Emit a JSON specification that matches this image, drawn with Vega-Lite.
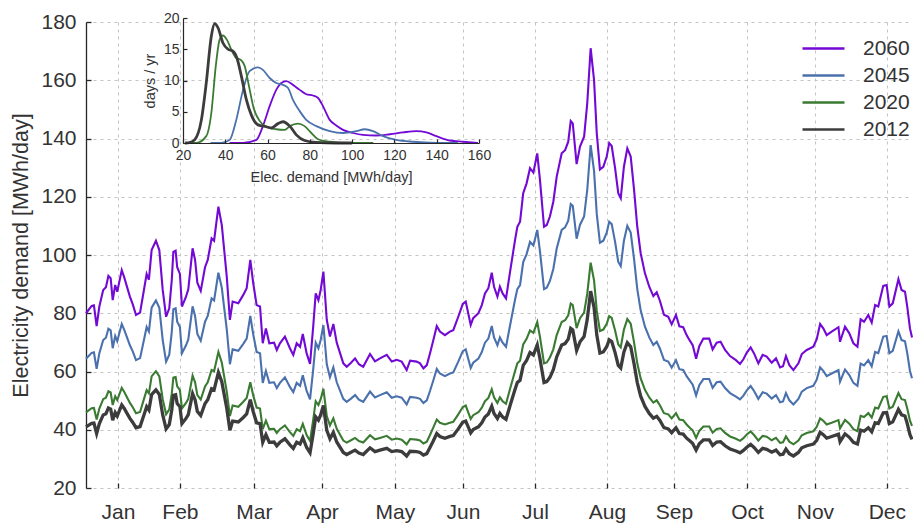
{
"$schema": "https://vega.github.io/schema/vega-lite/v6.json",
"width": 826, "height": 466,
"autosize": {"type": "none"},
"padding": {"left": 86, "top": 22, "right": 1, "bottom": 36},
"background": "white",
"config": {"view": {"stroke": null}, "font": "Liberation Sans", "axis": {"labelColor": "#333333", "titleColor": "#333333", "titleFontWeight": "normal", "labelFlush": false, "labelOverlap": false, "labelBound": false}},
"datasets": {
"main": [
{"d":0,"2060":80,"2045":64.4,"2020":46.0,"2012":41.0},
{"d":2.5,"2060":82.5,"2045":66.4,"2020":47.4,"2012":42.2},
{"d":3.5,"2060":82.7,"2045":66.6,"2020":47.5,"2012":42.3},
{"d":4.7,"2060":75.6,"2045":60.9,"2020":43.5,"2012":38.7},
{"d":5.9,"2060":82.3,"2045":66.3,"2020":47.3,"2012":42.1},
{"d":7.6,"2060":88,"2045":70.8,"2020":50.5,"2012":45.1},
{"d":8.8,"2060":88.9,"2045":71.6,"2020":51.0,"2012":45.5},
{"d":9.9,"2060":92.8,"2045":74.7,"2020":53.2,"2012":47.5},
{"d":10.9,"2060":92,"2045":74.1,"2020":52.8,"2012":47.1},
{"d":11.8,"2060":84.5,"2045":68.0,"2020":48.5,"2012":43.3},
{"d":12.9,"2060":89.7,"2045":72.2,"2020":51.5,"2012":45.9},
{"d":13.8,"2060":87.4,"2045":70.4,"2020":50.2,"2012":44.7},
{"d":15.8,"2060":94.8,"2045":76.3,"2020":54.4,"2012":48.5},
{"d":16.9,"2060":92.3,"2045":74.3,"2020":53.0,"2012":47.3},
{"d":18.0,"2060":89.4,"2045":72.0,"2020":51.3,"2012":45.8},
{"d":19.4,"2060":85.7,"2045":69.0,"2020":49.2,"2012":43.9},
{"d":20.6,"2060":83.2,"2045":67.0,"2020":47.8,"2012":42.6},
{"d":22.1,"2060":79.4,"2045":63.9,"2020":45.7,"2012":40.7},
{"d":23.9,"2060":80.2,"2045":64.6,"2020":46.1,"2012":41.1},
{"d":25.6,"2060":88,"2045":70.8,"2020":50.5,"2012":45.1},
{"d":26.8,"2060":93.5,"2045":75.3,"2020":53.6,"2012":47.9},
{"d":27.8,"2060":91.5,"2045":73.7,"2020":52.5,"2012":46.8},
{"d":29.0,"2060":101.7,"2045":81.9,"2020":58.3,"2012":52.1},
{"d":30.9,"2060":104.9,"2045":84.4,"2020":60.1,"2012":53.7},
{"d":32.4,"2060":101.7,"2045":81.9,"2020":58.3,"2012":52.1},
{"d":33.9,"2060":88,"2045":70.8,"2020":50.5,"2012":45.1},
{"d":35.4,"2060":78.8,"2045":63.4,"2020":45.3,"2012":40.3},
{"d":36.8,"2060":81.7,"2045":65.8,"2020":47.0,"2012":41.8},
{"d":37.9,"2060":91.4,"2045":73.6,"2020":52.4,"2012":46.8},
{"d":38.6,"2060":101.1,"2045":81.4,"2020":57.9,"2012":51.8},
{"d":39.6,"2060":101.5,"2045":81.7,"2020":58.1,"2012":52.0},
{"d":40.3,"2060":95.8,"2045":77.1,"2020":54.9,"2012":49.0},
{"d":41.5,"2060":93.5,"2045":75.3,"2020":53.6,"2012":47.9},
{"d":42.4,"2060":82.3,"2045":66.3,"2020":47.3,"2012":42.1},
{"d":44.2,"2060":85.7,"2045":69.0,"2020":49.2,"2012":43.9},
{"d":45.2,"2060":88.2,"2045":71.0,"2020":50.6,"2012":45.2},
{"d":47.1,"2060":102.3,"2045":82.4,"2020":58.6,"2012":52.4},
{"d":48.2,"2060":98.3,"2045":79.1,"2020":56.3,"2012":50.3},
{"d":49.2,"2060":90.5,"2045":72.9,"2020":51.9,"2012":46.3},
{"d":50.7,"2060":87.7,"2045":70.6,"2020":50.4,"2012":44.9},
{"d":52.6,"2060":95.8,"2045":77.1,"2020":54.9,"2012":49.0},
{"d":53.8,"2060":98.3,"2045":79.1,"2020":56.3,"2012":50.3},
{"d":55.5,"2060":105.7,"2045":85.1,"2020":60.5,"2012":54.1},
{"d":56.6,"2060":104.9,"2045":84.4,"2020":60.1,"2012":53.7},
{"d":58.5,"2060":116.6,"2045":93.9,"2020":66.7,"2012":59.7},
{"d":60.0,"2060":110.3,"2045":88.8,"2020":63.1,"2012":56.5},
{"d":62.2,"2060":92.6,"2045":74.5,"2020":53.1,"2012":47.4},
{"d":63.6,"2060":77.7,"2045":62.5,"2020":44.7,"2012":39.8},
{"d":64.8,"2060":84,"2045":67.6,"2020":48.3,"2012":43.0},
{"d":67.3,"2060":83.4,"2045":67.1,"2020":47.9,"2012":42.7},
{"d":69.5,"2060":86.3,"2045":69.5,"2020":49.6,"2012":44.2},
{"d":71.0,"2060":88.6,"2045":71.3,"2020":50.9,"2012":45.4},
{"d":72.6,"2060":98.3,"2045":79.1,"2020":56.3,"2012":50.3},
{"d":73.9,"2060":90.3,"2045":72.7,"2020":51.8,"2012":46.2},
{"d":75.4,"2060":82.8,"2045":66.7,"2020":47.6,"2012":42.4},
{"d":76.9,"2060":82.3,"2045":66.3,"2020":47.3,"2012":42.1},
{"d":78.1,"2060":69.7,"2045":56.1,"2020":40.2,"2012":35.7},
{"d":79.5,"2060":74.8,"2045":60.2,"2020":43.1,"2012":38.3},
{"d":81.0,"2060":69.7,"2045":56.1,"2020":40.2,"2012":35.7},
{"d":83.1,"2060":69.9,"2045":56.3,"2020":40.3,"2012":35.8},
{"d":84.3,"2060":67.4,"2045":54.3,"2020":38.9,"2012":34.5},
{"d":85.7,"2060":69.7,"2045":56.1,"2020":40.2,"2012":35.7},
{"d":87.9,"2060":72,"2045":58.0,"2020":41.5,"2012":36.9},
{"d":90.1,"2060":68,"2045":54.7,"2020":39.2,"2012":34.8},
{"d":91.6,"2060":65.7,"2045":52.9,"2020":37.9,"2012":33.6},
{"d":93.1,"2060":69.7,"2045":56.1,"2020":40.2,"2012":35.7},
{"d":94.6,"2060":68.5,"2045":55.1,"2020":39.5,"2012":35.1},
{"d":95.8,"2060":72.9,"2045":58.7,"2020":42.0,"2012":37.3},
{"d":97.5,"2060":66.2,"2045":53.3,"2020":38.2,"2012":33.9},
{"d":99.0,"2060":62.6,"2045":50.4,"2020":36.2,"2012":32.1},
{"d":100.4,"2060":75.4,"2045":60.7,"2020":43.4,"2012":38.6},
{"d":101.5,"2060":86.8,"2045":69.9,"2020":49.8,"2012":44.4},
{"d":102.7,"2060":84.5,"2045":68.0,"2020":48.5,"2012":43.3},
{"d":103.7,"2060":88,"2045":70.8,"2020":50.5,"2012":45.1},
{"d":104.9,"2060":94.3,"2045":75.9,"2020":54.1,"2012":48.3},
{"d":106.4,"2060":77.7,"2045":62.5,"2020":44.7,"2012":39.8},
{"d":107.8,"2060":72,"2045":58.0,"2020":41.5,"2012":36.9},
{"d":109.3,"2060":76.3,"2045":61.4,"2020":43.9,"2012":39.1},
{"d":110.8,"2060":69.9,"2045":56.3,"2020":40.3,"2012":35.8},
{"d":113.7,"2060":62.8,"2045":50.6,"2020":36.3,"2012":32.2},
{"d":115.2,"2060":61.6,"2045":49.6,"2020":35.6,"2012":31.5},
{"d":117.1,"2060":63,"2045":50.7,"2020":36.4,"2012":32.3},
{"d":118.9,"2060":64.5,"2045":51.9,"2020":37.2,"2012":33.0},
{"d":120.6,"2060":62.5,"2045":50.3,"2020":36.1,"2012":32.0},
{"d":122.5,"2060":61.6,"2045":49.6,"2020":35.6,"2012":31.5},
{"d":125.5,"2060":66,"2045":53.1,"2020":38.1,"2012":33.8},
{"d":127.7,"2060":63.5,"2045":51.1,"2020":36.7,"2012":32.5},
{"d":129.9,"2060":64.5,"2045":51.9,"2020":37.2,"2012":33.0},
{"d":132.9,"2060":65.7,"2045":52.9,"2020":37.9,"2012":33.6},
{"d":135.1,"2060":63.4,"2045":51.0,"2020":36.6,"2012":32.5},
{"d":137.3,"2060":64,"2045":51.5,"2020":37.0,"2012":32.8},
{"d":139.5,"2060":63.4,"2045":51.0,"2020":36.6,"2012":32.5},
{"d":141.7,"2060":60.5,"2045":48.7,"2020":35.0,"2012":31.0},
{"d":143.2,"2060":63.7,"2045":51.3,"2020":36.8,"2012":32.6},
{"d":146.1,"2060":63.4,"2045":51.0,"2020":36.6,"2012":32.5},
{"d":147.6,"2060":62.8,"2045":50.6,"2020":36.3,"2012":32.2},
{"d":149.1,"2060":61.1,"2045":49.2,"2020":35.3,"2012":31.3},
{"d":150.6,"2060":62.2,"2045":50.1,"2020":35.9,"2012":31.8},
{"d":152.0,"2060":66.2,"2045":53.3,"2020":38.2,"2012":33.9},
{"d":153.5,"2060":70.8,"2045":57.0,"2020":40.8,"2012":36.2},
{"d":155.0,"2060":75.6,"2045":60.9,"2020":43.5,"2012":38.7},
{"d":156.4,"2060":73.7,"2045":59.3,"2020":42.4,"2012":37.7},
{"d":158.6,"2060":72.5,"2045":58.4,"2020":41.8,"2012":37.1},
{"d":160.8,"2060":73.7,"2045":59.3,"2020":42.4,"2012":37.7},
{"d":162.3,"2060":74.2,"2045":59.7,"2020":42.7,"2012":38.0},
{"d":164.5,"2060":78.8,"2045":63.4,"2020":45.3,"2012":40.3},
{"d":166.5,"2060":83.2,"2045":67.0,"2020":47.8,"2012":42.6},
{"d":167.8,"2060":84,"2045":67.6,"2020":48.3,"2012":43.0},
{"d":168.9,"2060":80,"2045":64.4,"2020":46.0,"2012":41.0},
{"d":170.0,"2060":76,"2045":61.2,"2020":43.7,"2012":38.9},
{"d":171.1,"2060":78.3,"2045":63.0,"2020":45.0,"2012":40.1},
{"d":173.4,"2060":80,"2045":64.4,"2020":46.0,"2012":41.0},
{"d":174.9,"2060":82.8,"2045":66.7,"2020":47.6,"2012":42.4},
{"d":176.3,"2060":86.8,"2045":69.9,"2020":49.8,"2012":44.4},
{"d":177.8,"2060":88.6,"2045":71.3,"2020":50.9,"2012":45.4},
{"d":179.3,"2060":93.9,"2045":75.6,"2020":53.9,"2012":48.1},
{"d":180.3,"2060":89.1,"2045":71.7,"2020":51.1,"2012":45.6},
{"d":181.8,"2060":85.7,"2045":69.0,"2020":49.2,"2012":43.9},
{"d":182.9,"2060":89.1,"2045":71.7,"2020":51.1,"2012":45.6},
{"d":184.1,"2060":86.8,"2045":69.9,"2020":49.8,"2012":44.4},
{"d":185.6,"2060":85.1,"2045":68.5,"2020":48.9,"2012":43.6},
{"d":187.4,"2060":94.3,"2045":75.9,"2020":54.1,"2012":48.3},
{"d":189.6,"2060":105.2,"2045":84.7,"2020":60.2,"2012":53.9},
{"d":190.6,"2060":109.7,"2045":88.3,"2020":62.8,"2012":56.2},
{"d":191.8,"2060":111.4,"2045":89.7,"2020":63.7,"2012":57.0},
{"d":193.2,"2060":121.2,"2045":97.6,"2020":69.3,"2012":62.1},
{"d":194.7,"2060":124.6,"2045":100.3,"2020":71.2,"2012":63.8},
{"d":196.2,"2060":129.8,"2045":104.5,"2020":74.1,"2012":66.5},
{"d":197.7,"2060":128.3,"2045":103.3,"2020":73.3,"2012":65.7},
{"d":199.4,"2060":134.9,"2045":108.6,"2020":77.0,"2012":69.1},
{"d":200.6,"2060":125.8,"2045":101.3,"2020":71.9,"2012":64.4},
{"d":202.4,"2060":109.7,"2045":88.3,"2020":62.8,"2012":56.2},
{"d":203.6,"2060":110.3,"2045":88.8,"2020":63.1,"2012":56.5},
{"d":205.0,"2060":113.2,"2045":91.1,"2020":64.8,"2012":58.0},
{"d":206.5,"2060":118.3,"2045":95.2,"2020":67.6,"2012":60.6},
{"d":208.0,"2060":126.9,"2045":102.2,"2020":72.5,"2012":65.0},
{"d":210.2,"2060":134.9,"2045":108.6,"2020":77.0,"2012":69.1},
{"d":211.7,"2060":136,"2045":109.5,"2020":77.6,"2012":69.6},
{"d":213.1,"2060":138.9,"2045":111.8,"2020":79.3,"2012":71.1},
{"d":214.2,"2060":146,"2045":117.5,"2020":83.3,"2012":74.8},
{"d":215.1,"2060":145.2,"2045":116.9,"2020":82.8,"2012":74.3},
{"d":216.8,"2060":131.2,"2045":105.6,"2020":74.9,"2012":67.2},
{"d":218.3,"2060":137.2,"2045":110.4,"2020":78.3,"2012":70.2},
{"d":220.1,"2060":140.6,"2045":113.2,"2020":80.2,"2012":72.0},
{"d":221.5,"2060":152.1,"2045":122.4,"2020":86.7,"2012":77.9},
{"d":223.0,"2060":171,"2045":137.7,"2020":97.4,"2012":87.6},
{"d":224.5,"2060":160.1,"2045":128.9,"2020":91.3,"2012":82.0},
{"d":225.7,"2060":141.8,"2045":114.1,"2020":80.9,"2012":72.6},
{"d":227.1,"2060":129.4,"2045":104.2,"2020":73.9,"2012":66.3},
{"d":228.6,"2060":130.3,"2045":104.9,"2020":74.4,"2012":66.7},
{"d":230.1,"2060":133.8,"2045":107.7,"2020":76.4,"2012":68.5},
{"d":231.2,"2060":138.4,"2045":111.4,"2020":79.0,"2012":70.9},
{"d":232.3,"2060":137.4,"2045":110.6,"2020":78.4,"2012":70.3},
{"d":233.8,"2060":129.8,"2045":104.5,"2020":74.1,"2012":66.5},
{"d":235.2,"2060":121.2,"2045":97.6,"2020":69.3,"2012":62.1},
{"d":236.3,"2060":119.5,"2045":96.2,"2020":68.3,"2012":61.2},
{"d":237.7,"2060":130.3,"2045":104.9,"2020":74.4,"2012":66.7},
{"d":239.2,"2060":136.6,"2045":110.0,"2020":78.0,"2012":69.9},
{"d":240.7,"2060":133.8,"2045":107.7,"2020":76.4,"2012":68.5},
{"d":242.2,"2060":122.3,"2045":98.5,"2020":69.9,"2012":62.6},
{"d":243.6,"2060":109.7,"2045":88.3,"2020":62.8,"2012":56.2},
{"d":245.1,"2060":100.6,"2045":81.0,"2020":57.6,"2012":51.5},
{"d":247.0,"2060":93.7,"2045":75.4,"2020":53.7,"2012":48.0},
{"d":248.9,"2060":89.1,"2045":71.7,"2020":51.1,"2012":45.6},
{"d":250.7,"2060":85.9,"2045":69.1,"2020":49.3,"2012":44.0},
{"d":252.2,"2060":87.2,"2045":70.2,"2020":50.1,"2012":44.6},
{"d":253.6,"2060":84.3,"2045":67.9,"2020":48.4,"2012":43.2},
{"d":255.4,"2060":79.5,"2045":64.0,"2020":45.7,"2012":40.7},
{"d":257.3,"2060":78.8,"2045":63.4,"2020":45.3,"2012":40.3},
{"d":258.8,"2060":76.2,"2045":61.3,"2020":43.9,"2012":39.0},
{"d":260.7,"2060":79.4,"2045":63.9,"2020":45.7,"2012":40.7},
{"d":262.2,"2060":75.5,"2045":60.8,"2020":43.5,"2012":38.7},
{"d":263.9,"2060":75.2,"2045":60.5,"2020":43.3,"2012":38.5},
{"d":265.4,"2060":72.5,"2045":58.4,"2020":41.8,"2012":37.1},
{"d":266.9,"2060":70.5,"2045":56.8,"2020":40.6,"2012":36.1},
{"d":268.1,"2060":69,"2045":55.5,"2020":39.8,"2012":35.3},
{"d":269.6,"2060":64.4,"2045":51.8,"2020":37.2,"2012":33.0},
{"d":271.0,"2060":68.7,"2045":55.3,"2020":39.6,"2012":35.2},
{"d":272.8,"2060":71.3,"2045":57.4,"2020":41.1,"2012":36.5},
{"d":275.4,"2060":71.3,"2045":57.4,"2020":41.1,"2012":36.5},
{"d":276.9,"2060":67.6,"2045":54.4,"2020":39.0,"2012":34.6},
{"d":278.7,"2060":69.9,"2045":56.3,"2020":40.3,"2012":35.8},
{"d":280.4,"2060":70.2,"2045":56.5,"2020":40.5,"2012":35.9},
{"d":282.4,"2060":67.4,"2045":54.3,"2020":38.9,"2012":34.5},
{"d":284.6,"2060":65.3,"2045":52.6,"2020":37.7,"2012":33.4},
{"d":287.2,"2060":63.9,"2045":51.4,"2020":36.9,"2012":32.7},
{"d":289.0,"2060":62.6,"2045":50.4,"2020":36.2,"2012":32.1},
{"d":290.5,"2060":64.2,"2045":51.7,"2020":37.1,"2012":32.9},
{"d":292.0,"2060":66.5,"2045":53.5,"2020":38.4,"2012":34.0},
{"d":293.7,"2060":68.3,"2045":55.0,"2020":39.4,"2012":35.0},
{"d":295.2,"2060":66.2,"2045":53.3,"2020":38.2,"2012":33.9},
{"d":297.1,"2060":62.8,"2045":50.6,"2020":36.3,"2012":32.2},
{"d":299.0,"2060":65.7,"2045":52.9,"2020":37.9,"2012":33.6},
{"d":300.8,"2060":65.1,"2045":52.4,"2020":37.6,"2012":33.3},
{"d":303.0,"2060":63,"2045":50.7,"2020":36.4,"2012":32.3},
{"d":304.9,"2060":64.5,"2045":51.9,"2020":37.2,"2012":33.0},
{"d":306.7,"2060":61.4,"2045":49.4,"2020":35.5,"2012":31.4},
{"d":308.0,"2060":61.8,"2045":49.7,"2020":35.7,"2012":31.6},
{"d":309.3,"2060":65.3,"2045":52.6,"2020":37.7,"2012":33.4},
{"d":310.8,"2060":62.2,"2045":50.1,"2020":35.9,"2012":31.8},
{"d":312.6,"2060":60.5,"2045":48.7,"2020":35.0,"2012":31.0},
{"d":314.8,"2060":62.8,"2045":50.6,"2020":36.3,"2012":32.2},
{"d":316.3,"2060":66,"2045":53.1,"2020":38.1,"2012":33.8},
{"d":318.5,"2060":67.4,"2045":54.3,"2020":38.9,"2012":34.5},
{"d":321.4,"2060":68.5,"2045":55.1,"2020":39.5,"2012":35.1},
{"d":322.9,"2060":71.1,"2045":57.2,"2020":41.0,"2012":36.4},
{"d":324.4,"2060":76.3,"2045":61.4,"2020":43.9,"2012":39.1},
{"d":325.8,"2060":74.8,"2045":60.2,"2020":43.1,"2012":38.3},
{"d":327.3,"2060":72.5,"2045":58.4,"2020":41.8,"2012":37.1},
{"d":329.5,"2060":73.7,"2045":59.3,"2020":42.4,"2012":37.7},
{"d":332.5,"2060":75.2,"2045":60.5,"2020":43.3,"2012":38.5},
{"d":333.2,"2060":70.2,"2045":56.5,"2020":40.5,"2012":35.9},
{"d":335.4,"2060":75.4,"2045":60.7,"2020":43.4,"2012":38.6},
{"d":337.3,"2060":73.1,"2045":58.8,"2020":42.1,"2012":37.4},
{"d":339.1,"2060":69.7,"2045":56.1,"2020":40.2,"2012":35.7},
{"d":340.9,"2060":68.5,"2045":55.1,"2020":39.5,"2012":35.1},
{"d":342.3,"2060":77.9,"2045":62.7,"2020":44.8,"2012":39.9},
{"d":343.8,"2060":77.1,"2045":62.1,"2020":44.4,"2012":39.5},
{"d":345.7,"2060":79.4,"2045":63.9,"2020":45.7,"2012":40.7},
{"d":347.2,"2060":76.8,"2045":61.8,"2020":44.2,"2012":39.3},
{"d":348.7,"2060":82.8,"2045":66.7,"2020":47.6,"2012":42.4},
{"d":350.1,"2060":82.3,"2045":66.3,"2020":47.3,"2012":42.1},
{"d":352.3,"2060":89.4,"2045":72.0,"2020":51.3,"2012":45.8},
{"d":353.8,"2060":89.7,"2045":72.2,"2020":51.5,"2012":45.9},
{"d":355.0,"2060":82.3,"2045":66.3,"2020":47.3,"2012":42.1},
{"d":356.5,"2060":83.4,"2045":67.1,"2020":47.9,"2012":42.7},
{"d":359.0,"2060":91.7,"2045":73.8,"2020":52.6,"2012":47.0},
{"d":360.4,"2060":88,"2045":70.8,"2020":50.5,"2012":45.1},
{"d":361.9,"2060":87.4,"2045":70.4,"2020":50.2,"2012":44.7},
{"d":362.9,"2060":82.3,"2045":66.3,"2020":47.3,"2012":42.1},
{"d":364.1,"2060":74.8,"2045":60.2,"2020":43.1,"2012":38.3},
{"d":365,"2060":71.7,"2045":57.7,"2020":41.3,"2012":36.7}
],
"dens": [
{"year":"2060","x":42,"y":0},{"year":"2060","x":48.4,"y":0},{"year":"2060","x":54.7,"y":0.5},{"year":"2060","x":57.8,"y":2.7},{"year":"2060","x":61,"y":5.9},{"year":"2060","x":64.1,"y":8.5},{"year":"2060","x":66.5,"y":9.6},{"year":"2060","x":68.9,"y":9.9},{"year":"2060","x":72,"y":9.3},{"year":"2060","x":75.2,"y":8.5},{"year":"2060","x":78.3,"y":7.8},{"year":"2060","x":81.5,"y":7.6},{"year":"2060","x":83.9,"y":7.2},{"year":"2060","x":86.2,"y":5.9},{"year":"2060","x":89.4,"y":3.7},{"year":"2060","x":92.5,"y":2.8},{"year":"2060","x":95.7,"y":2.1},{"year":"2060","x":100.4,"y":1.6},{"year":"2060","x":105.1,"y":1.3},{"year":"2060","x":111.4,"y":1.2},{"year":"2060","x":117.8,"y":1.4},{"year":"2060","x":124.1,"y":1.7},{"year":"2060","x":130.4,"y":1.9},{"year":"2060","x":135.1,"y":1.7},{"year":"2060","x":139.8,"y":1.1},{"year":"2060","x":146.1,"y":0.4},{"year":"2060","x":152.4,"y":0.2},{"year":"2060","x":159.5,"y":0},
{"year":"2045","x":33,"y":0},{"year":"2045","x":38.1,"y":0},{"year":"2045","x":42.1,"y":0.5},{"year":"2045","x":45.2,"y":3.7},{"year":"2045","x":48.4,"y":8.5},{"year":"2045","x":51.5,"y":11.5},{"year":"2045","x":55.5,"y":12.1},{"year":"2045","x":57.8,"y":11.7},{"year":"2045","x":61,"y":10.4},{"year":"2045","x":64.1,"y":9.6},{"year":"2045","x":67.3,"y":9.3},{"year":"2045","x":69.7,"y":8.8},{"year":"2045","x":72,"y":6.9},{"year":"2045","x":75.2,"y":5.1},{"year":"2045","x":78.3,"y":3.7},{"year":"2045","x":83.1,"y":2.7},{"year":"2045","x":89.4,"y":1.9},{"year":"2045","x":95.7,"y":1.6},{"year":"2045","x":102,"y":1.9},{"year":"2045","x":105.9,"y":2.2},{"year":"2045","x":109.9,"y":1.9},{"year":"2045","x":114.6,"y":1.1},{"year":"2045","x":120.9,"y":0.5},{"year":"2045","x":128.8,"y":0.2},{"year":"2045","x":136.7,"y":0.05},{"year":"2045","x":144.6,"y":0},{"year":"2045","x":150,"y":0},
{"year":"2020","x":24,"y":0},{"year":"2020","x":26.3,"y":0},{"year":"2020","x":31,"y":1.1},{"year":"2020","x":33.4,"y":4.8},{"year":"2020","x":35.5,"y":12.3},{"year":"2020","x":37.3,"y":16.5},{"year":"2020","x":38.9,"y":17.2},{"year":"2020","x":40.8,"y":16.5},{"year":"2020","x":42.9,"y":14.9},{"year":"2020","x":45.2,"y":13.6},{"year":"2020","x":47.3,"y":13.3},{"year":"2020","x":49.2,"y":12.3},{"year":"2020","x":51.2,"y":9.1},{"year":"2020","x":53.4,"y":5.6},{"year":"2020","x":56.3,"y":3.5},{"year":"2020","x":59.4,"y":2.6},{"year":"2020","x":64.1,"y":2.2},{"year":"2020","x":68.1,"y":2.1},{"year":"2020","x":70.5,"y":2.7},{"year":"2020","x":74.4,"y":3.1},{"year":"2020","x":77.5,"y":2.7},{"year":"2020","x":80.7,"y":1.6},{"year":"2020","x":83.9,"y":0.6},{"year":"2020","x":89.4,"y":0.2},{"year":"2020","x":98.8,"y":0},{"year":"2020","x":110,"y":0},
{"year":"2012","x":21,"y":0},{"year":"2012","x":23,"y":0.05},{"year":"2012","x":25.5,"y":0.5},{"year":"2012","x":28.7,"y":3.7},{"year":"2012","x":31,"y":9.6},{"year":"2012","x":33.4,"y":17.1},{"year":"2012","x":35,"y":19.1},{"year":"2012","x":36.6,"y":18.4},{"year":"2012","x":38.9,"y":16},{"year":"2012","x":41.3,"y":15},{"year":"2012","x":43.6,"y":14.7},{"year":"2012","x":45.5,"y":13.6},{"year":"2012","x":47.6,"y":10.7},{"year":"2012","x":50,"y":6.9},{"year":"2012","x":52.3,"y":4.5},{"year":"2012","x":55.5,"y":2.9},{"year":"2012","x":59.4,"y":2.6},{"year":"2012","x":61.8,"y":2.4},{"year":"2012","x":64.9,"y":3.1},{"year":"2012","x":67.3,"y":3.4},{"year":"2012","x":70.5,"y":2.7},{"year":"2012","x":73.6,"y":1.3},{"year":"2012","x":77.5,"y":0.4},{"year":"2012","x":83,"y":0.1},{"year":"2012","x":92.5,"y":0},{"year":"2012","x":100,"y":0}
]
},
"layer": [
{
"layer": [
{
"data": {"name": "main"},
"transform": [{"fold": ["2060", "2045", "2020", "2012"], "as": ["year", "demand"]}],
"mark": {"type": "line", "interpolate": "linear"},
"encoding": {
"x": {"field": "d", "type": "quantitative",
"scale": {"domain": [0, 365], "nice": false, "zero": false},
"axis": {"orient": "bottom", "values": [14.1, 41.5, 74.2, 104.3, 136.5, 166.6, 198.4, 230.2, 259.8, 292.1, 322.1, 353.9],
"labelExpr": "['Jan','Feb','Mar','Apr','May','Jun','Jul','Aug','Sep','Oct','Nov','Dec'][indexof([14.1,41.5,74.2,104.3,136.5,166.6,198.4,230.2,259.8,292.1,322.1,353.9], datum.value)]",
"domain": false, "tickSize": -5, "tickColor": "#262626", "tickWidth": 1.3, "labelPadding": 18, "labelFontSize": 21,
"grid": true, "gridDash": [3, 4], "gridColor": "#c4c4c4", "gridWidth": 1, "title": null}},
"y": {"field": "demand", "type": "quantitative",
"scale": {"domain": [20, 180], "nice": false, "zero": false},
"axis": {"orient": "left", "values": [20, 40, 60, 80, 100, 120, 140, 160, 180], "tickSize": -5, "tickColor": "#262626", "tickWidth": 1.3,
"domainColor": "#262626", "domainWidth": 1.3, "labelPadding": 15, "labelFontSize": 21,
"grid": true, "gridDash": [3, 4], "gridColor": "#c4c4c4", "gridWidth": 1,
"title": "Electricity demand [MWh/day]", "titleFontSize": 21.5, "titlePadding": 8}},
"color": {"field": "year", "type": "nominal",
"scale": {"domain": ["2060", "2045", "2020", "2012"], "range": ["#7309d4", "#4a71ad", "#3a7a32", "#3c3c3c"]},
"legend": {"orient": "none", "legendX": 727, "legendY": 16, "title": null, "symbolType": "M-3,0H3", "symbolSize": 196, "symbolStrokeWidth": 2.4,
"labelFontSize": 21, "labelColor": "#333333", "labelOffset": 29, "rowPadding": 5, "padding": 0}},
"strokeWidth": {"condition": {"test": "datum.year === '2012'", "value": 3.3}, "value": 2.1}
}
},
{
"mark": {"type": "rule", "color": "#262626", "strokeWidth": 1.3},
"encoding": {
"x": {"datum": 14.1, "type": "quantitative"},
"x2": {"datum": 353.9},
"y": {"datum": 20, "type": "quantitative"}
}
}
]
},
{
"layer": [
{
"mark": {"type": "rect", "color": "#ebebeb"},
"encoding": {
"x": {"datum": 20, "type": "quantitative", "scale": {"domain": [20, 160], "range": [97, 393], "nice": false, "zero": false}},
"x2": {"datum": 160},
"y": {"datum": 0, "type": "quantitative", "scale": {"domain": [0, 20], "range": [121, -4], "nice": false, "zero": false}},
"y2": {"datum": 21.9}
}
},
{
"data": {"name": "dens"},
"mark": {"type": "line", "interpolate": "monotone"},
"encoding": {
"x": {"field": "x", "type": "quantitative",
"scale": {"domain": [20, 160], "range": [97, 393], "nice": false, "zero": false},
"axis": {"orient": "bottom", "offset": -345, "values": [20, 40, 60, 80, 100, 120, 140, 160], "tickSize": -4, "tickColor": "#262626", "tickWidth": 1.2,
"domainColor": "#262626", "domainWidth": 1.2, "labelPadding": 9, "labelFontSize": 14, "grid": false, "zindex": 1,
"title": "Elec. demand [MWh/day]", "titleFontSize": 14.5, "titlePadding": 8}},
"y": {"field": "y", "type": "quantitative",
"scale": {"domain": [0, 20], "range": [121, -4], "nice": false, "zero": false},
"axis": {"orient": "left", "offset": -97, "values": [0, 5, 10, 15, 20], "tickSize": -4, "tickColor": "#262626", "tickWidth": 1.2,
"domainColor": "#262626", "domainWidth": 1.2, "labelPadding": 8, "labelFontSize": 14, "grid": false, "zindex": 1,
"title": "days / yr", "titleFontSize": 14.5, "titlePadding": 6}},
"color": {"field": "year", "type": "nominal"},
"strokeWidth": {"condition": {"test": "datum.year === '2012'", "value": 2.8}, "value": 1.8}
}
}
]
}
],
"resolve": {"scale": {"x": "independent", "y": "independent"}, "axis": {"x": "independent", "y": "independent"}}
}
